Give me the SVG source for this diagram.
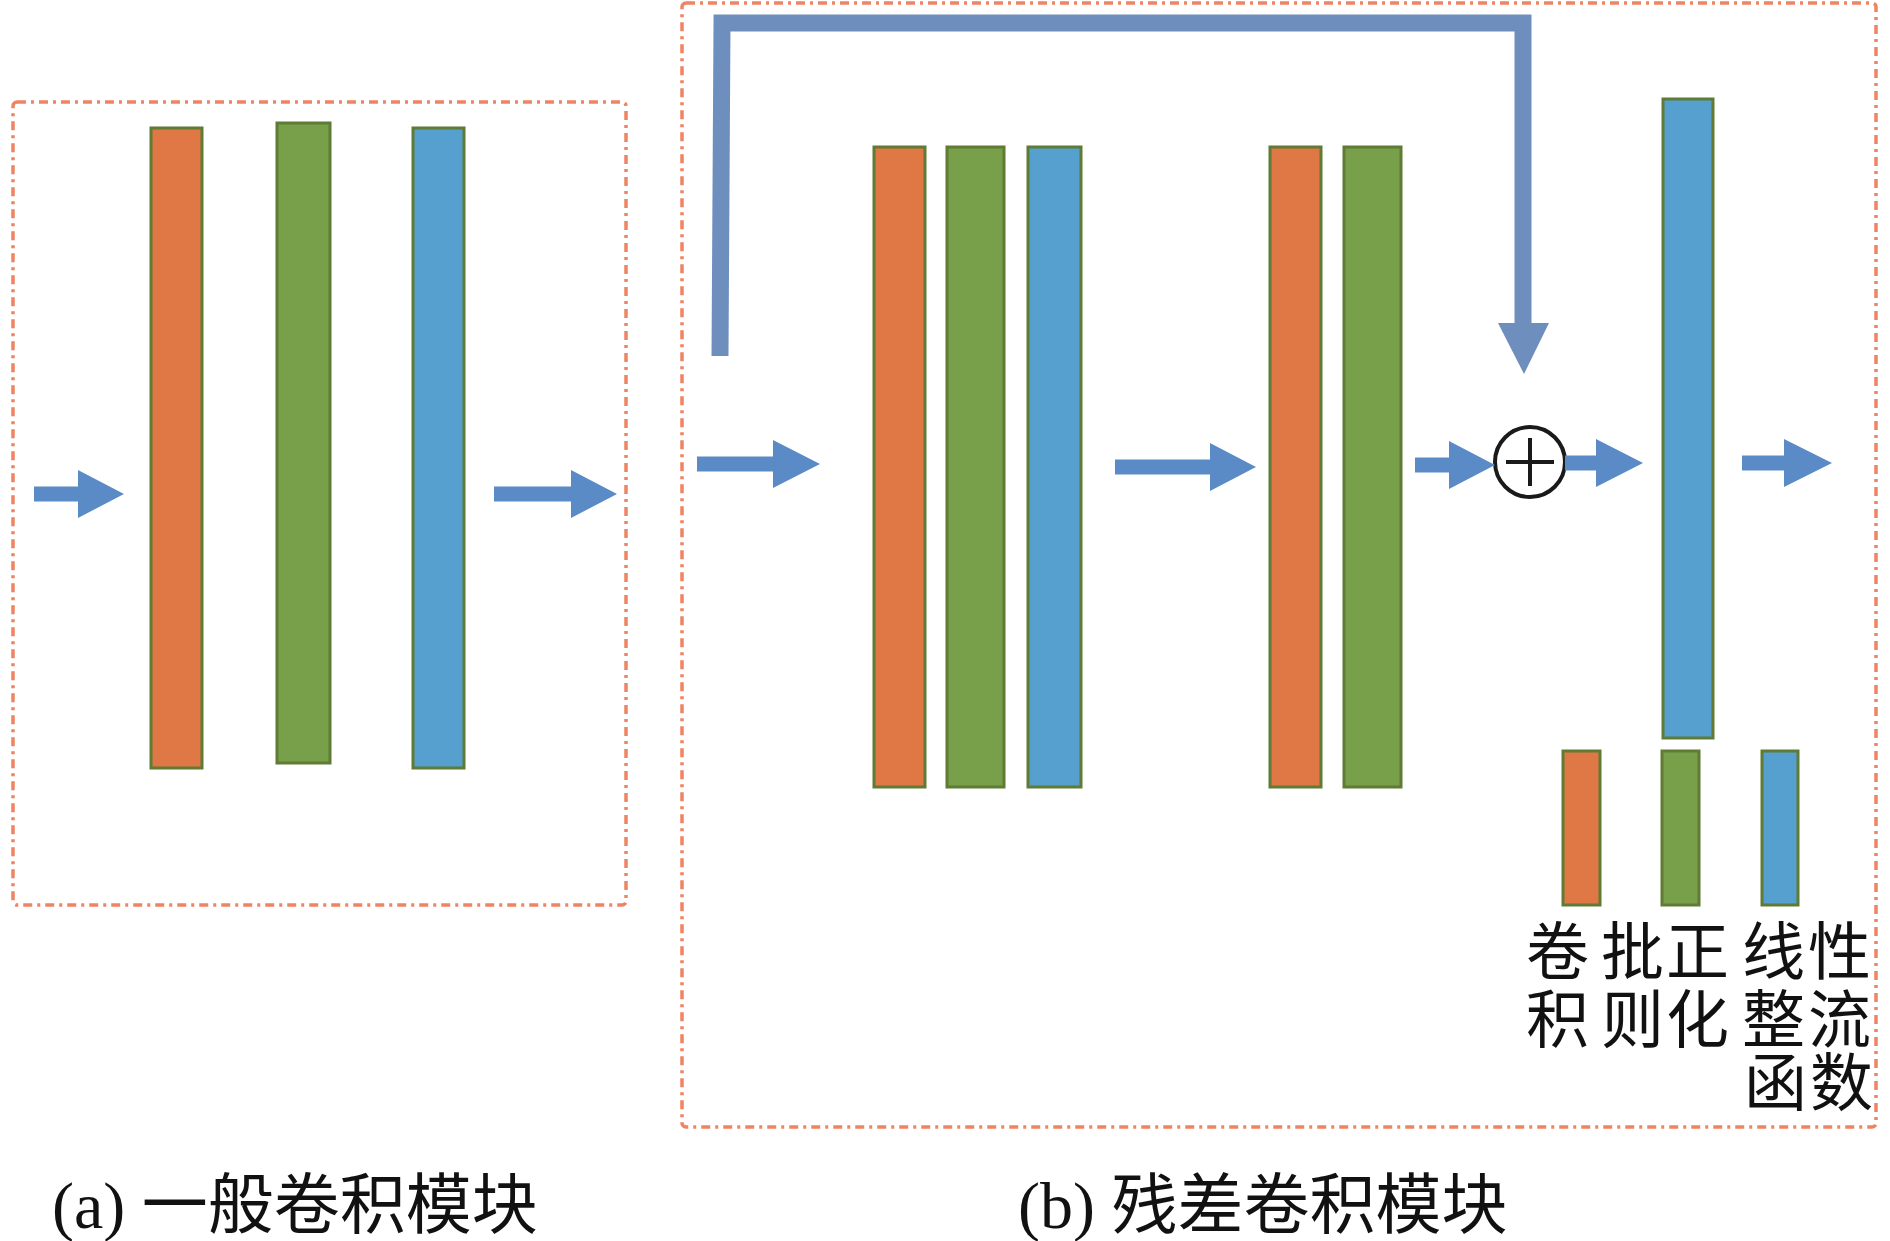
<svg xmlns="http://www.w3.org/2000/svg" width="1890" height="1241" viewBox="0 0 1890 1241">
<style>
.frame{fill:none;stroke:#EF8462;stroke-width:3.5;stroke-dasharray:9 5 3 5}
.bar{stroke:#5F7B34;stroke-width:3}
.conv{fill:#E07845}
.bn{fill:#78A04A}
.relu{fill:#56A0CF}
.arr{fill:#5B8BC6}
.skip{fill:none;stroke:#6E8FBE;stroke-width:17;stroke-linejoin:miter}
.skiphead{fill:#6E8FBE}
.cjk{font-family:"Noto Sans CJK SC",sans-serif;font-size:63px;fill:#111}
.cap{font-family:"Liberation Serif","Noto Sans CJK SC",serif;font-size:66px;fill:#111}
</style>
<rect width="1890" height="1241" fill="#ffffff"/>

<g id="frame-a"><rect class="frame" x="13" y="102" width="613" height="803" rx="4"/></g>
<g id="frame-b"><rect class="frame" x="682" y="3" width="1194" height="1124" rx="4"/></g>

<g id="block-a">
  <g id="a-conv"><rect class="bar conv" x="151" y="128" width="51" height="640"/></g>
  <g id="a-bn"><rect class="bar bn" x="277" y="123" width="53" height="640"/></g>
  <g id="a-relu"><rect class="bar relu" x="413" y="128" width="51" height="640"/></g>
</g>

<g id="block-b">
  <g id="b-conv1"><rect class="bar conv" x="874" y="147" width="51" height="640"/></g>
  <g id="b-bn1"><rect class="bar bn" x="947" y="147" width="57" height="640"/></g>
  <g id="b-relu1"><rect class="bar relu" x="1028" y="147" width="53" height="640"/></g>
  <g id="b-conv2"><rect class="bar conv" x="1270" y="147" width="51" height="640"/></g>
  <g id="b-bn2"><rect class="bar bn" x="1344" y="147" width="57" height="640"/></g>
  <g id="b-relu-out"><rect class="bar relu" x="1663" y="99" width="50" height="639"/></g>
  <g id="b-add">
    <circle cx="1530" cy="462" r="35" fill="#ffffff" stroke="#1a1a1a" stroke-width="4"/>
    <path d="M1506 462H1554M1530 438V486" stroke="#1a1a1a" stroke-width="4"/>
  </g>
</g>

<g id="legend">
  <g id="legend-conv">
    <rect class="bar conv" x="1563" y="751" width="37" height="154"/>
    <text class="cjk"><tspan x="1526" y="974">卷</tspan><tspan x="1526" y="1042">积</tspan></text>
  </g>
  <g id="legend-bn">
    <rect class="bar bn" x="1662" y="751" width="37" height="154"/>
    <text class="cjk" letter-spacing="2"><tspan x="1601" y="974">批正</tspan><tspan x="1601" y="1042">则化</tspan></text>
  </g>
  <g id="legend-relu">
    <rect class="bar relu" x="1762" y="751" width="36" height="154"/>
    <text class="cjk" letter-spacing="3"><tspan x="1742" y="974">线性</tspan><tspan x="1742" y="1042">整流</tspan><tspan x="1744" y="1105">函数</tspan></text>
  </g>
</g>

<g id="connectors">
  <polygon class="arr" points="34,486.5 78,486.5 78,470 124,494 78,518 78,501.5 34,501.5"/>
  <polygon class="arr" points="494,486.5 571,486.5 571,470 617,494 571,518 571,501.5 494,501.5"/>
  <polygon class="arr" points="697,456.5 773,456.5 773,440 820,464 773,488 773,471.5 697,471.5"/>
  <polygon class="arr" points="1115,459.5 1210,459.5 1210,443 1256,467 1210,491 1210,474.5 1115,474.5"/>
  <polygon class="arr" points="1415,457.5 1449,457.5 1449,441 1495,465 1449,489 1449,472.5 1415,472.5"/>
  <polygon class="arr" points="1565,455.5 1596,455.5 1596,439 1643,463 1596,487 1596,470.5 1565,470.5"/>
  <polygon class="arr" points="1742,455.5 1784,455.5 1784,439 1832,463 1784,487 1784,470.5 1742,470.5"/>
  <path class="skip" d="M720 356L722 23H1523V326"/>
  <polygon class="skiphead" points="1498,323 1549,323 1524,374"/>
</g>

<g id="captions">
  <text class="cap" x="52" y="1228">(a) 一般卷积模块</text>
  <text class="cap" x="1018" y="1228">(b) 残差卷积模块</text>
</g>
</svg>
